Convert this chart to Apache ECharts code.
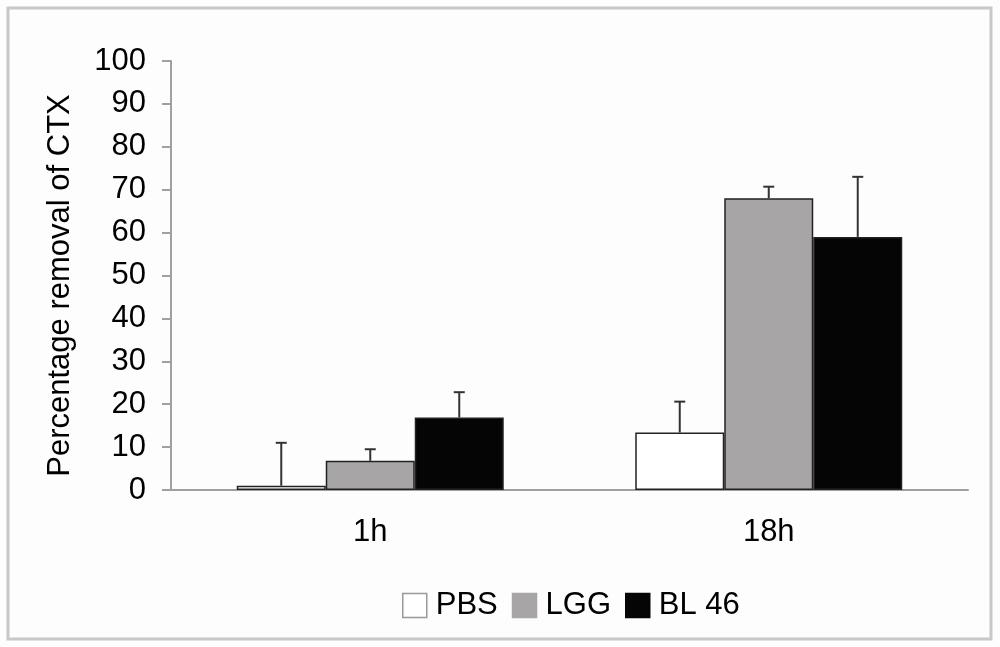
<!DOCTYPE html>
<html>
<head>
<meta charset="utf-8">
<script src="https://cdn.jsdelivr.net/npm/echarts@6/dist/echarts.min.js"></script>
<style>html,body{margin:0;padding:0;background:#fff;}#c{width:1000px;height:647px;}</style>
</head>
<body>
<div id="c"></div>
<script>
var categories = ['1h', '18h'];
var seriesNames = ['PBS', 'LGG', 'BL 46'];
var pbsValues = [1.0, 13.4];
var pbsErrors = [10.0, 7.2];
var lggValues = [6.8, 68.0];
var lggErrors = [2.7, 2.7];
var bl46Values = [16.9, 59.0];
var bl46Errors = [5.9, 14.0];
var yTicks = [0, 10, 20, 30, 40, 50, 60, 70, 80, 90, 100];

var colors = ['#ffffff', '#a7a5a6', '#050505'];
var legendBorders = ['#999999', '#a7a5a6', '#050505'];
var valuesList = [pbsValues, lggValues, bl46Values];
var errorsList = [pbsErrors, lggErrors, bl46Errors];
var catGap = 0.33;
var font = 'Liberation Sans, Arial, sans-serif';

var chart = echarts.init(document.getElementById('c'));
var series = [];
seriesNames.forEach(function (name, i) {
  series.push({
    name: name,
    type: 'bar',
    data: valuesList[i],
    barGap: '0%',
    barCategoryGap: (catGap * 100) + '%',
    itemStyle: { color: colors[i], borderColor: '#222', borderWidth: 1.5 },
    z: 2
  });
});
seriesNames.forEach(function (name, i) {
  var errData = valuesList[i].map(function (v, j) { return [j, v, v + errorsList[i][j]]; });
  series.push({
    type: 'custom',
    name: name + ' err',
    data: errData,
    z: 3,
    renderItem: function (params, api) {
      var ci = api.value(0);
      var base = api.coord([ci, api.value(1)]);
      var top = api.coord([ci, api.value(2)]);
      var catW = api.size([1, 0])[0];
      var barW = catW * (1 - catGap) / 3;
      var x = base[0] + (i - 1) * barW;
      var half = 5.5;
      var st = { stroke: '#333', lineWidth: 2 };
      return {
        type: 'group',
        children: [
          { type: 'line', shape: { x1: x, y1: base[1], x2: x, y2: top[1] }, style: st },
          { type: 'line', shape: { x1: x - half, y1: top[1], x2: x + half, y2: top[1] }, style: st }
        ]
      };
    }
  });
});

chart.setOption({
  animation: false,
  backgroundColor: '#fdfdfd',
  textStyle: { fontFamily: font },
  grid: { left: 171, right: 32, top: 61, bottom: 157 },
  legend: {
    data: seriesNames.map(function (n, i) {
      return { name: n, itemStyle: { color: colors[i], borderColor: legendBorders[i], borderWidth: 1.5 } };
    }),
    top: 585,
    left: 397,
    icon: 'rect',
    itemWidth: 24,
    itemHeight: 24,
    itemGap: 14,
    textStyle: { fontSize: 31, color: '#000', fontFamily: font, padding: [0, 0, 0, 4] }
  },
  graphic: [{
    type: 'rect',
    shape: { x: 8, y: 8, width: 983, height: 631 },
    style: { fill: 'none', stroke: '#c8c8c8', lineWidth: 3 },
    silent: true
  }],
  xAxis: {
    type: 'category',
    data: categories,
    axisLine: { lineStyle: { color: '#a0a0a0', width: 2 } },
    axisTick: { show: false },
    axisLabel: { fontSize: 31, color: '#000', margin: 27, fontFamily: font }
  },
  yAxis: {
    type: 'value',
    min: yTicks[0],
    max: yTicks[yTicks.length - 1],
    interval: 10,
    name: 'Percentage removal of CTX',
    nameLocation: 'middle',
    nameGap: 95,
    nameTextStyle: { fontSize: 31, color: '#000', fontFamily: font, padding: [0, 0, 0, -20] },
    axisLine: { show: true, lineStyle: { color: '#a0a0a0', width: 2 } },
    axisTick: { show: true, length: 9, lineStyle: { color: '#a0a0a0', width: 2 } },
    splitLine: { show: false },
    axisLabel: { fontSize: 31, color: '#000', margin: 25, fontFamily: font }
  },
  series: series
});
</script>
</body>
</html>
